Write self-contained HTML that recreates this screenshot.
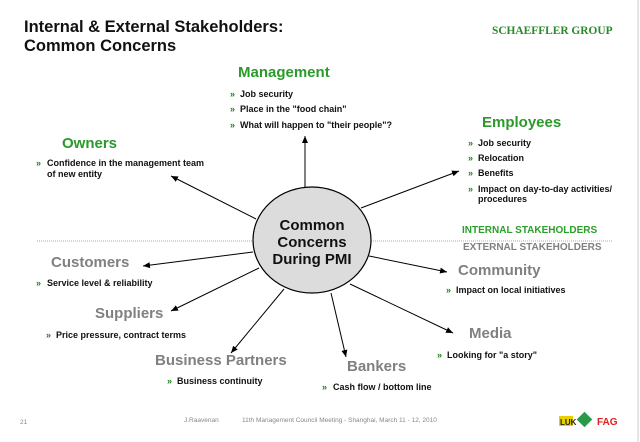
<!DOCTYPE html>
<html><head><meta charset="utf-8"><style>
html,body{margin:0;padding:0;background:#fff;}
svg{display:block;font-family:"Liberation Sans",Arial,sans-serif;}
.b{font-size:9px;font-weight:bold;fill:#111;}
.g{fill:#2a9a2a;font-weight:bold;font-size:15px;}
.x{fill:#808080;font-weight:bold;font-size:15px;}
.ar{fill:#1f7a1f;font-size:9px;font-weight:bold;}
</style></head><body>
<svg width="640" height="442" viewBox="0 0 640 442">
<defs><marker id="m" markerWidth="8" markerHeight="8" refX="7" refY="4" orient="auto" markerUnits="userSpaceOnUse"><path d="M0,1 L7,4 L0,7 Z" fill="#000"/></marker></defs>
<line x1="638" y1="0" x2="638" y2="442" stroke="#ccc"/>
<text x="24" y="32" font-size="16.5" font-weight="bold" fill="#111">Internal &amp; External Stakeholders:</text>
<text x="24" y="51" font-size="16.5" font-weight="bold" fill="#111">Common Concerns</text>
<text x="492" y="34" font-family="Liberation Serif,serif" font-size="11.4" font-weight="bold" fill="#2a8a2a">SCHAEFFLER GROUP</text>
<line x1="37" y1="241" x2="612" y2="241" stroke="#aaa" stroke-dasharray="1,1"/>
<g stroke="#000" stroke-width="1" marker-end="url(#m)">
<line x1="305" y1="188" x2="305" y2="136"/>
<line x1="256" y1="219" x2="171" y2="176"/>
<line x1="361" y1="208" x2="459" y2="171"/>
<line x1="253" y1="252" x2="143" y2="266"/>
<line x1="259" y1="268" x2="171" y2="311"/>
<line x1="284" y1="289" x2="231" y2="353"/>
<line x1="331" y1="293" x2="346" y2="357"/>
<line x1="350" y1="284" x2="453" y2="333"/>
<line x1="369" y1="256" x2="447" y2="272"/>
</g>
<ellipse cx="312" cy="240" rx="59" ry="53" fill="#dcdcdc" stroke="#000" stroke-width="1.2"/>
<g font-size="15" font-weight="bold" fill="#111" text-anchor="middle">
<text x="312" y="230">Common</text><text x="312" y="247">Concerns</text><text x="312" y="264">During PMI</text></g>
<text x="238" y="77" class="g">Management</text>
<g class="b"><text x="240" y="97">Job security</text><text x="240" y="112">Place in the "food chain"</text><text x="240" y="128">What will happen to "their people"?</text></g>
<g class="ar"><text x="230" y="97">»</text><text x="230" y="112">»</text><text x="230" y="128">»</text></g>
<text x="62" y="148" class="g">Owners</text>
<text x="47" y="166" class="b">Confidence in the management team</text><text x="47" y="177" class="b">of new  entity</text><text x="36" y="166" class="ar">»</text>
<text x="482" y="127" class="g">Employees</text>
<g class="b"><text x="478" y="146">Job security</text><text x="478" y="161">Relocation</text><text x="478" y="176">Benefits</text><text x="478" y="192">Impact on day-to-day activities/</text><text x="478" y="202">procedures</text></g>
<g class="ar"><text x="468" y="146">»</text><text x="468" y="161">»</text><text x="468" y="176">»</text><text x="468" y="192">»</text></g>
<text x="462" y="233" font-size="10" font-weight="bold" fill="#2aa02a">INTERNAL STAKEHOLDERS</text>
<text x="463" y="250" font-size="10" font-weight="bold" fill="#808080">EXTERNAL STAKEHOLDERS</text>
<text x="51" y="267" class="x">Customers</text>
<text x="47" y="286" class="b">Service level &amp; reliability</text><text x="36" y="286" class="ar">»</text>
<text x="95" y="318" class="x">Suppliers</text>
<text x="56" y="338" class="b">Price pressure, contract terms</text><text x="46" y="338" class="ar">»</text>
<text x="155" y="365" class="x">Business Partners</text>
<text x="177" y="384" class="b">Business continuity</text><text x="167" y="384" class="ar">»</text>
<text x="347" y="371" class="x">Bankers</text>
<text x="333" y="390" class="b">Cash flow / bottom line</text><text x="322" y="390" class="ar">»</text>
<text x="469" y="338" class="x">Media</text>
<text x="447" y="358" class="b">Looking for "a story"</text><text x="437" y="358" class="ar">»</text>
<text x="458" y="275" class="x">Community</text>
<text x="456" y="293" class="b">Impact on local initiatives</text><text x="446" y="293" class="ar">»</text>
<g font-size="6.5" fill="#888"><text x="20" y="424">21</text><text x="184" y="422">J.Raavenan</text><text x="242" y="422">11th Management  Council Meeting  -  Shanghai, March 11 - 12, 2010</text></g>
<rect x="559" y="416" width="14" height="10" fill="#e8d000"/><text x="560" y="425" font-size="8" font-weight="bold" fill="#222">LUK</text>
<rect x="579" y="414" width="11" height="11" fill="#2a9a4a" transform="rotate(45 584.5 419.5)"/>
<text x="597" y="425" font-size="10" font-weight="bold" fill="#e02020">FAG</text>
</svg>
</body></html>
